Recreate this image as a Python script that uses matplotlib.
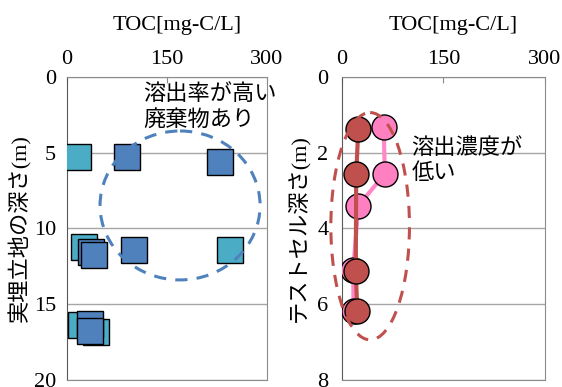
import matplotlib.pyplot as plt
from matplotlib.patches import Ellipse

plt.rcParams['font.family'] = ['Liberation Serif', 'Noto Sans CJK JP']
plt.rcParams['font.size'] = 16

# left panel: real landfill (two sample series)
teal_x = [16.5, 26, 245, 22, 43.5]
teal_y = [5.3, 11.25, 11.4, 16.4, 16.8]
blue_x = [90, 230, 37, 40.5, 101, 35, 35]
blue_y = [5.25, 5.6, 11.55, 11.75, 11.4, 16.3, 16.75]

# right panel: test cell
red_x = [24.5, 21.4, 20.8, 23]
red_y = [1.38, 2.57, 5.11, 6.19]
pink_x = [62, 63.6, 24.5, 17, 17.5]
pink_y = [1.33, 2.56, 3.4, 5.09, 6.19]

left_ticks = [0, 5, 10, 15, 20]
right_ticks = [0, 2, 4, 6, 8]
x_ticks = [0, 150, 300]

fig = plt.figure(figsize=(5.62, 3.87), dpi=100)
ax1 = fig.add_axes([0.1187, 0.0181, 0.3559, 0.783])
ax2 = fig.add_axes([0.608, 0.0181, 0.3617, 0.783])

jp = ['Noto Sans CJK JP']


def style(ax, yticks, ypad):
    ax.set_xlim(0, 300)
    ax.set_ylim(yticks[-1], yticks[0])
    ax.set_xticks(x_ticks)
    ax.set_yticks(yticks)
    ax.xaxis.tick_top()
    ax.tick_params(axis='x', direction='in', length=4, color='#888888', pad=5.5)
    ax.tick_params(axis='y', length=0, pad=ypad)
    ax.grid(axis='y', color='#A6A6A6', linewidth=1)
    ax.set_axisbelow(True)
    for s in ax.spines.values():
        s.set_color('#8C8C8C')
    ax.spines['left'].set_color('#595959')
    ax.text(0.55, 1.17, 'TOC[mg-C/L]', transform=ax.transAxes,
            ha='center', va='center')


style(ax1, left_ticks, 7.5)
style(ax2, right_ticks, 9.5)

ax1.plot(teal_x, teal_y, 's', ms=18.5, mfc='#4BACC6', mec='black', mew=1, zorder=3)
ax1.plot(blue_x, blue_y, 's', ms=18.5, mfc='#4F81BD', mec='black', mew=1, zorder=3)
ax1.add_patch(Ellipse((170, 8.48), 240, 9.83, fill=False, ec='#4F81BD',
                      lw=2.2, ls=(0, (4, 3)), zorder=4))
ax1.text(114.5, 0.35, '溶出率が高い\n廃棄物あり', family=jp, ha='left', va='top',
         linespacing=1.15)
ax1.set_ylabel('実埋立地の深さ(m)')
ax1.yaxis.set_label_coords(-0.178, 0.5)

ax2.plot(pink_x, pink_y, '-o', color='#FF88C8', lw=3, ms=18, mfc='#FF80C0',
         mec='black', mew=1, zorder=3)
ax2.plot(red_x, red_y, '-o', color='#C0504D', lw=3, ms=18, mfc='#C0504D',
         mec='black', mew=1, zorder=3)
ax2.add_patch(Ellipse((42, 3.94), 116, 6.0, fill=False, ec='#C0504D',
                      lw=2.2, ls=(0, (4, 3)), zorder=4, clip_on=False))
ax2.text(103, 1.55, '溶出濃度が\n低い', family=jp, ha='left', va='top',
         linespacing=1.15)
ax2.set_ylabel('テストセル深さ(m)')
ax2.yaxis.set_label_coords(-0.161, 0.5)

fig.savefig('out.png', dpi=100)
